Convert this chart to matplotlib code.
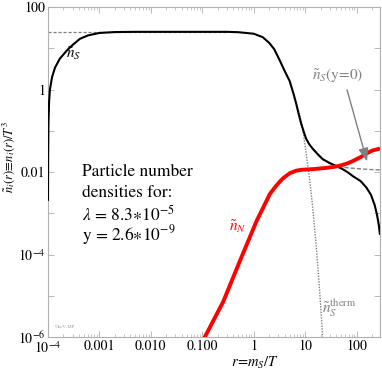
import matplotlib
matplotlib.use("Agg")
import matplotlib.pyplot as plt
from matplotlib.ticker import FixedLocator, NullFormatter

plt.rcParams['font.family'] = ['STIXGeneral', 'DejaVu Serif']
plt.rcParams['mathtext.fontset'] = 'stix'

# n_S (black)
nS_r = [1.0e-4, 1.005e-4, 1.02e-4, 1.05e-4, 1.09e-4, 1.2e-4, 1.37e-4, 1.7e-4, 2.34e-4, 3.0e-4,
        4.2e-4, 6e-4, 1e-3, 2e-3, 5e-3, 0.05, 0.3, 0.5, 1.0, 1.5, 2.0, 2.5, 3.2, 4.0, 5.0, 6.0,
        6.7, 7.5, 8.4, 9.5, 10.5, 12, 14.2, 18, 22, 30, 40, 55, 70, 85, 120, 155, 190, 224, 250, 270, 285]
nS_v = [0.002, 0.02, 0.15, 0.5, 1.0, 2.0, 3.4, 5.6, 8.9, 12, 17, 20.5, 23.5, 24.7, 25, 25, 25, 24.5,
        22.5, 18.5, 13.5, 9.5, 5.1, 2.8, 1.6, 0.75, 0.45, 0.25, 0.146, 0.09, 0.063, 0.047, 0.036,
        0.026, 0.0204, 0.0165, 0.014, 0.0115, 0.0095, 0.0079, 0.006, 0.0042, 0.0028, 0.0016,
        0.0009, 0.00052, 0.0003]

# n_N (red)
nN_r = [0.1, 0.112, 0.254, 0.534, 1.13, 2.05, 2.6, 3.2, 3.7, 5.0, 6.7, 8.5, 10.5, 15, 25.8, 35,
        46.8, 65, 85, 120, 155, 200, 285]
nN_v = [7e-7, 1e-6, 7.1e-6, 6.8e-5, 6.4e-4, 2.9e-3, 4.3e-3, 5.8e-3, 7.0e-3, 9.3e-3, 0.0108,
        0.0113, 0.0115, 0.0118, 0.0126, 0.0132, 0.0142, 0.016, 0.0185, 0.023, 0.028, 0.033, 0.037]

# equilibrium plateau (dashed)
plat_r = [1e-4, 1e-3, 0.3]
plat_v = [25, 25, 25]

# n_S^therm (dotted)
th_r = [5.0, 6.7, 7.8, 9.0, 10.5, 12, 13.8, 16, 18, 20, 22]
th_v = [1.6, 0.45, 0.25, 0.106, 0.027, 0.0081, 1.66e-3, 2.3e-4, 3.7e-5, 5.9e-6, 9e-7]

# n_S(y=0) (dashed)
y0_r = [14.2, 22, 30, 40, 60, 100, 180, 285]
y0_v = [0.036, 0.0205, 0.016, 0.0142, 0.0128, 0.0121, 0.0115, 0.0112]

xticks = [1e-4, 1e-3, 1e-2, 1e-1, 1, 10, 100]
xticklabels = ['$10^{-4}$', '0.001', '0.010', '0.100', '1', '10', '100']
yticks = [1e-6, 1e-4, 1e-2, 1, 100]
yticklabels = ['$10^{-6}$', '$10^{-4}$', '0.01', '1', '100']

fig = plt.figure(figsize=(3.82, 3.75), dpi=100)
ax = fig.add_axes([48/382, 1-337/375, 332/382, 330/375])
ax.set_xscale('log')
ax.set_yscale('log')
ax.set_xlim(1e-4, 285)
ax.set_ylim(1e-6, 100)

gray = '#808080'
ax.plot(plat_r, plat_v, color=gray, lw=0.9, ls=(0, (2.5, 1.5)), zorder=2)
ax.plot(th_r, th_v, color=gray, lw=1.0, ls=(0, (1, 1)), zorder=2)
ax.plot(y0_r, y0_v, color=gray, lw=1.0, ls=(0, (3, 1.5)), zorder=2)
ax.plot(nS_r, nS_v, color='black', lw=1.5, zorder=3, solid_capstyle='butt')
ax.plot(nN_r, nN_v, color='#ff0000', lw=2.8, zorder=4, solid_capstyle='butt')

ax.annotate('', xy=(165, 0.0155), xytext=(63, 1.14),
            arrowprops=dict(arrowstyle='-|>,head_length=0.8,head_width=0.3', color=gray, lw=1.0),
            zorder=5)

ax.text(3.1e-4, 7.5, r'$\tilde{n}_S$', fontsize=11, ha='center', va='center')
ax.text(0.495, 4.8e-4, r'$\tilde{n}_N$', fontsize=11, ha='center', va='center', color='#ff0000')
ax.text(43, 2.2, r'$\tilde{n}_S$(y=0)', fontsize=11, ha='center', va='center', color=gray)
ax.text(46, 5e-6, r'$\tilde{n}_S^{\rm therm}$', fontsize=11, ha='center', va='center', color=gray)

tx = 0.102
ax.text(tx, 0.50, 'Particle number', transform=ax.transAxes, fontsize=12.5, va='center')
ax.text(tx, 0.437, 'densities for:', transform=ax.transAxes, fontsize=12.5, va='center')
ax.text(tx, 0.370, r'$\lambda$ = 8.3$\ast$10$^{-5}$', transform=ax.transAxes, fontsize=12.5, va='center')
ax.text(tx, 0.308, r'y = 2.6$\ast$10$^{-9}$', transform=ax.transAxes, fontsize=12.5, va='center')
ax.text(0.022, 0.03, '©keV-MP', transform=ax.transAxes, fontsize=3.5, color='#999999', va='center')

ax.set_xticks(xticks)
ax.set_xticklabels(xticklabels)
ax.set_yticks(yticks)
ax.set_yticklabels(yticklabels)
ax.yaxis.set_minor_locator(FixedLocator([1e-5, 1e-3, 1e-1, 10]))
ax.yaxis.set_minor_formatter(NullFormatter())

for s in ax.spines.values():
    s.set_color('#b0b0b0')
    s.set_linewidth(0.8)
ax.tick_params(which='both', direction='in', top=True, right=True, colors='#b0b0b0',
               labelcolor='black', labelsize=10)
ax.tick_params(which='major', length=4, width=0.6, pad=2)
ax.tick_params(which='minor', length=2, width=0.5)
ax.tick_params(axis='y', which='minor', length=4, width=0.6)

ax.set_xlabel(r'$r\!=\!m_S/T$', fontsize=10.5)
ax.xaxis.set_label_coords(0.623, -0.055)
ax.set_ylabel(r'$\tilde{n}_i(r)\!\equiv\! n_i(r)/T^3$', fontsize=9)
ax.yaxis.set_label_coords(-0.094, 0.545)

fig.savefig('out.png', dpi=100)
